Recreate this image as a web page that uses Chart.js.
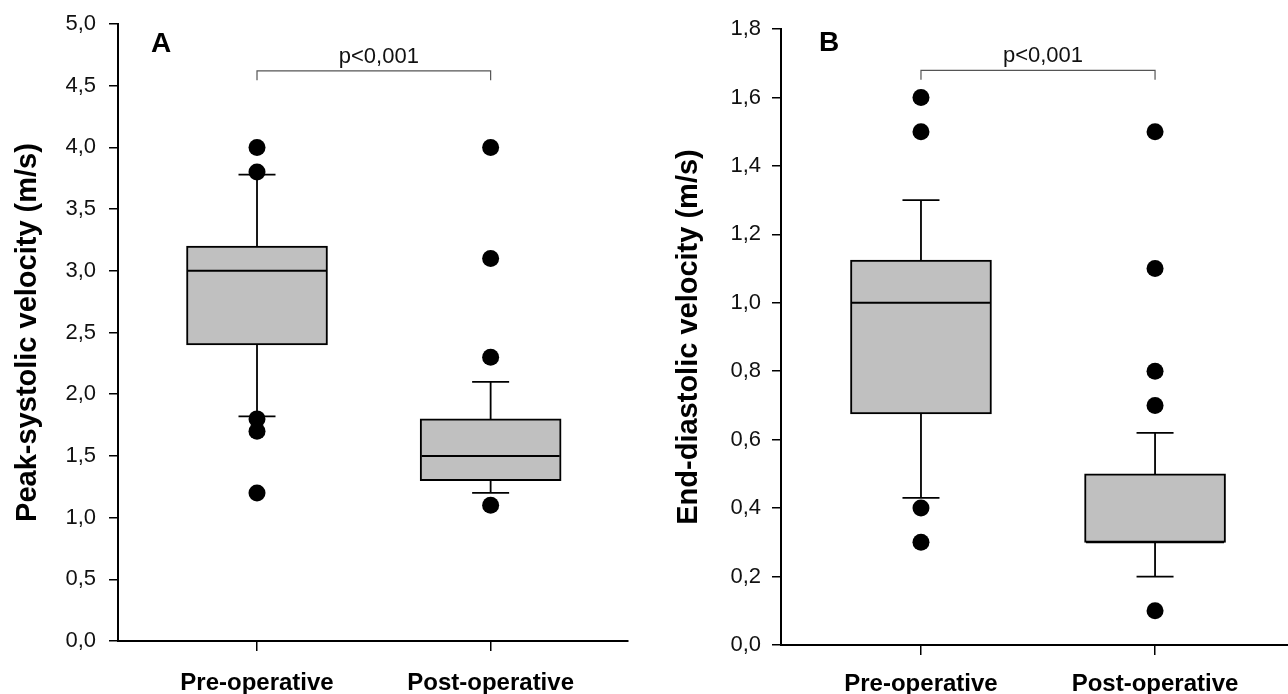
<!DOCTYPE html>
<html>
<head>
<meta charset="utf-8">
<script src="https://cdn.jsdelivr.net/npm/chart.js@4.4.1/dist/chart.umd.min.js"></script>
<style>
  html, body { margin: 0; padding: 0; background: #fff; }
  body { width: 1288px; height: 694px; position: relative; overflow: hidden; }
  canvas { position: absolute; top: 0; display: block; }
  #ca { left: 0; }
  #cb { left: 644px; }
</style>
</head>
<body>
<canvas id="ca" width="644" height="694"></canvas>
<canvas id="cb" width="644" height="694"></canvas>
<script>
// ---- Data ----
const categories = ['Pre-operative', 'Post-operative'];
const categoryPositions = [1, 2];

// Panel A: Peak-systolic velocity (m/s)
const psvQ1 = [2.4, 1.3];
const psvMedian = [3.0, 1.5];
const psvQ3 = [3.2, 1.8];
const psvWhiskerLow = [1.82, 1.2];
const psvWhiskerHigh = [3.78, 2.1];
const psvOutliersPre = [4.0, 3.8, 1.8, 1.7, 1.2];
const psvOutliersPost = [4.0, 3.1, 2.3, 1.1];
const psvTicks = [0, 0.5, 1.0, 1.5, 2.0, 2.5, 3.0, 3.5, 4.0, 4.5, 5.0];
const psvBracket = [4.545, 4.62];

// Panel B: End-diastolic velocity (m/s)
const edvQ1 = [0.675, 0.3];
const edvMedian = [1.0, 0.3];
const edvQ3 = [1.125, 0.5];
const edvWhiskerLow = [0.43, 0.2];
const edvWhiskerHigh = [1.3, 0.62];
const edvOutliersPre = [1.6, 1.5, 0.4, 0.3];
const edvOutliersPost = [1.5, 1.1, 0.8, 0.7, 0.1];
const edvTicks = [0, 0.2, 0.4, 0.6, 0.8, 1.0, 1.2, 1.4, 1.6, 1.8];
const edvBracket = [1.652, 1.679];

const pText = 'p<0,001';

// ---- Builder ----
const FONT = "'Liberation Sans', Arial, sans-serif";

function buildChart(canvasId, cfg) {
  const boxes = categoryPositions.map((x, i) => ({ x: x, y: [cfg.q1[i], cfg.q3[i]] }));
  const medians = categoryPositions.map((x, i) => ({ x: x, y: cfg.median[i] }));
  const stems = [];
  categoryPositions.forEach((x, i) => {
    stems.push({ x: x, y: cfg.q3[i] }, { x: x, y: cfg.hi[i] }, { x: x, y: null });
    stems.push({ x: x, y: cfg.q1[i] }, { x: x, y: cfg.lo[i] }, { x: x, y: null });
  });
  const caps = [];
  categoryPositions.forEach((x, i) => {
    caps.push({ x: x, y: cfg.lo[i] }, { x: x, y: cfg.hi[i] });
  });
  const outliers = [];
  cfg.outPre.forEach(v => outliers.push({ x: categoryPositions[0], y: v }));
  cfg.outPost.forEach(v => outliers.push({ x: categoryPositions[1], y: v }));
  const bracket = [
    { x: categoryPositions[0], y: cfg.bracket[0] },
    { x: categoryPositions[0], y: cfg.bracket[1] },
    { x: categoryPositions[1], y: cfg.bracket[1] },
    { x: categoryPositions[1], y: cfg.bracket[0] }
  ];

  const annot = {
    id: 'annot_' + canvasId,
    afterDatasetsDraw(chart) {
      const { ctx, scales, chartArea } = chart;
      ctx.save();
      ctx.fillStyle = '#111';
      ctx.font = '22px ' + FONT;
      ctx.textAlign = 'center';
      ctx.textBaseline = 'alphabetic';
      const px = scales.x.getPixelForValue((categoryPositions[0] + categoryPositions[1]) / 2) + 5;
      const py = scales.y.getPixelForValue(cfg.bracket[1]) - 8;
      ctx.fillText(pText, px, py);
      ctx.font = 'bold 28px ' + FONT;
      ctx.textAlign = 'left';
      ctx.fillStyle = '#000';
      ctx.fillText(cfg.letter, chartArea.left + cfg.letterDx, chartArea.top + cfg.letterDy);
      ctx.restore();
    }
  };

  return new Chart(document.getElementById(canvasId), {
    type: 'scatter',
    data: {
      datasets: [
        {
          type: 'bar',
          data: boxes,
          backgroundColor: '#c0c0c0',
          borderColor: '#000',
          borderWidth: 2,
          borderSkipped: false,
          barThickness: 141,
          grouped: false,
          order: 5
        },
        {
          type: 'scatter',
          data: stems,
          showLine: true,
          spanGaps: false,
          borderColor: '#000',
          borderWidth: 1.8,
          pointRadius: 0,
          order: 6,
          clip: false
        },
        {
          type: 'scatter',
          data: medians,
          pointStyle: 'line',
          pointRadius: 69,
          pointBorderColor: '#000',
          pointBorderWidth: 2,
          order: 4,
          clip: false
        },
        {
          type: 'scatter',
          data: caps,
          pointStyle: 'line',
          pointRadius: 18.5,
          pointBorderColor: '#000',
          pointBorderWidth: 1.8,
          order: 3,
          clip: false
        },
        {
          type: 'scatter',
          data: outliers,
          pointStyle: 'circle',
          pointRadius: 8.5,
          pointBackgroundColor: '#000',
          pointBorderColor: '#000',
          pointBorderWidth: 0,
          order: 1,
          clip: false
        },
        {
          type: 'scatter',
          data: bracket,
          showLine: true,
          borderColor: '#555',
          borderWidth: 1.2,
          pointRadius: 0,
          order: 2,
          clip: false
        }
      ]
    },
    options: {
      responsive: false,
      animation: false,
      devicePixelRatio: 1,
      events: [],
      layout: { autoPadding: false, padding: { top: cfg.padTop, right: cfg.padRight, bottom: 0, left: 0 } },
      plugins: { legend: { display: false }, tooltip: { enabled: false } },
      scales: {
        x: {
          type: 'linear',
          min: cfg.xMin,
          max: cfg.xMax,
          offset: false,
          afterBuildTicks: s => { s.ticks = categoryPositions.map(v => ({ value: v })); },
          afterFit: s => { s.height = cfg.xHeight; s.paddingLeft = 0; s.paddingRight = 0; },
          ticks: {
            callback: v => categories[categoryPositions.indexOf(v)] || '',
            font: { family: FONT, size: 24, weight: 'bold' },
            color: '#000',
            padding: cfg.xTickPad,
            maxRotation: 0,
            autoSkip: false
          },
          grid: { offset: false, drawOnChartArea: false, drawTicks: true, tickLength: 10, color: '#000', lineWidth: 1.5 },
          border: { display: true, color: '#000', width: 2 }
        },
        y: {
          type: 'linear',
          min: cfg.yTicks[0],
          max: cfg.yTicks[cfg.yTicks.length - 1],
          afterBuildTicks: s => { s.ticks = cfg.yTicks.map(v => ({ value: v })); },
          afterFit: s => { s.width = cfg.yWidth; s.paddingTop = 0; s.paddingBottom = 0; },
          ticks: {
            callback: v => v.toFixed(1).replace('.', ','),
            font: { family: FONT, size: 22 },
            color: '#111',
            padding: cfg.yTickPad
          },
          grid: { offset: false, drawOnChartArea: false, drawTicks: true, tickLength: 9, color: '#000', lineWidth: 1.5 },
          border: { display: true, color: '#000', width: 2 },
          title: {
            display: true,
            text: cfg.yTitle,
            font: { family: FONT, size: 29, weight: 'bold' },
            color: '#000',
            padding: { top: cfg.titlePad, bottom: 0 }
          }
        }
      }
    },
    plugins: [annot]
  });
}

buildChart('ca', {
  q1: psvQ1, median: psvMedian, q3: psvQ3, lo: psvWhiskerLow, hi: psvWhiskerHigh,
  outPre: psvOutliersPre, outPost: psvOutliersPost, yTicks: psvTicks, bracket: psvBracket,
  yTitle: 'Peak-systolic velocity (m/s)', letter: 'A',
  xMin: 0.405, xMax: 2.588, yWidth: 118, xHeight: 53, padTop: 24, padRight: 16,
  yTickPad: 13, xTickPad: 18, titlePad: 11, letterDx: 33, letterDy: 28
});

buildChart('cb', {
  q1: edvQ1, median: edvMedian, q3: edvQ3, lo: edvWhiskerLow, hi: edvWhiskerHigh,
  outPre: edvOutliersPre, outPost: edvOutliersPost, yTicks: edvTicks, bracket: edvBracket,
  yTitle: 'End-diastolic velocity (m/s)', letter: 'B',
  xMin: 0.402, xMax: 2.568, yWidth: 137, xHeight: 49, padTop: 29, padRight: 0,
  yTickPad: 11, xTickPad: 15, titlePad: 28, letterDx: 38, letterDy: 22
});
</script>
</body>
</html>
